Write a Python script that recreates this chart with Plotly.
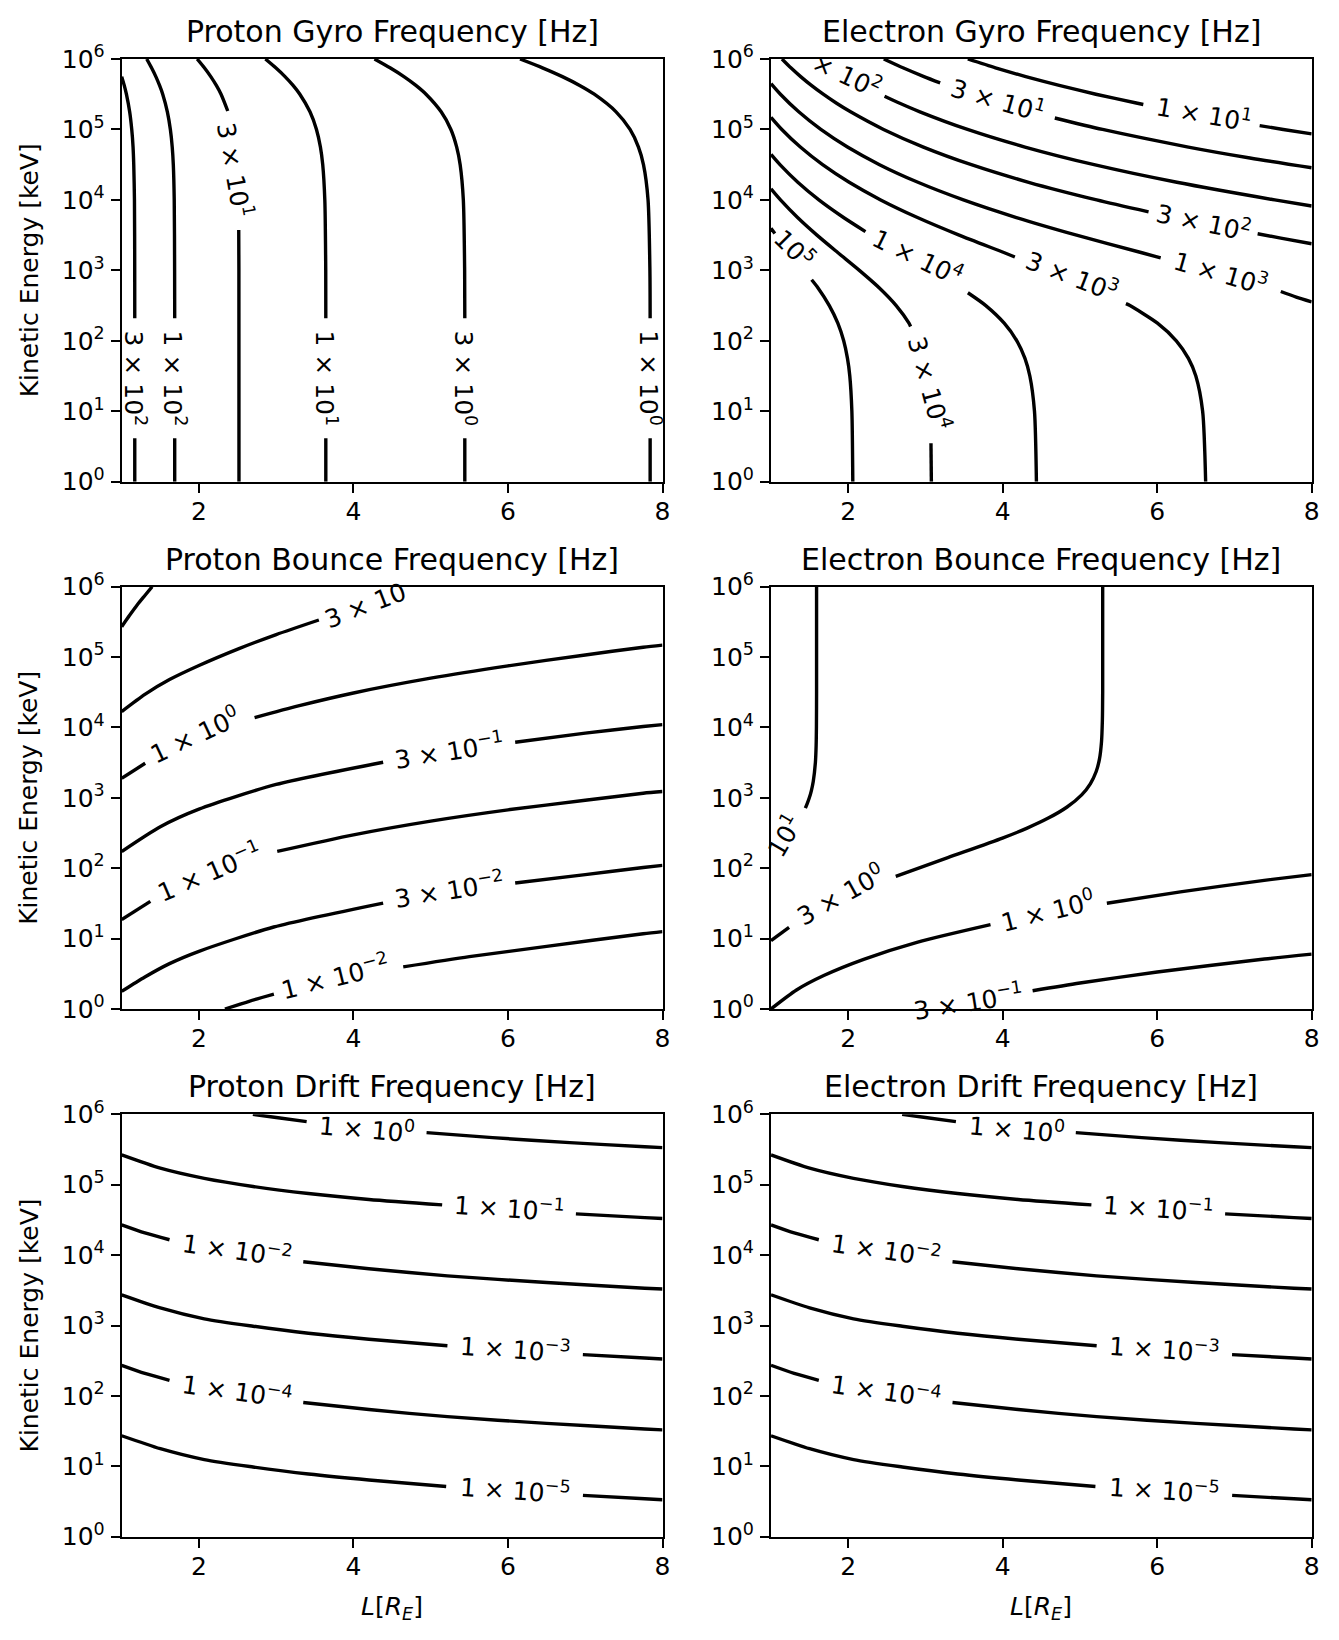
import plotly.graph_objects as go

# ---------------------------------------------------------------------------
# Data: L [R_E] and log10(kinetic energy / keV).
# None marks a gap where the inline contour label sits.
# ---------------------------------------------------------------------------

# Proton gyro frequency
pg_300_L = [1.0, 1.033, 1.061, 1.103, 1.130, 1.147, 1.156, 1.165, 1.1685, 1.169, None, 1.169, 1.169]
pg_300_logE = [5.75, 5.625, 5.5, 5.25, 5.0, 4.75, 4.5, 4.0, 3.0, 2.32, None, 0.616, 0.0]
pg_100_L = [1.324, 1.386, 1.442, 1.490, 1.531, 1.591, 1.630, 1.654, 1.668, 1.680, 1.685, 1.686, None, 1.686, 1.686]
pg_100_logE = [6.0, 5.875, 5.75, 5.625, 5.5, 5.25, 5.0, 4.75, 4.5, 4.0, 3.0, 2.32, None, 0.616, 0.0]
pg_30_L = [1.977, 2.070, 2.153, 2.225, 2.286, 2.373, None, 2.515, 2.517, 2.518]
pg_30_logE = [6.0, 5.875, 5.75, 5.625, 5.5, 5.262, None, 3.573, 3.0, 0.0]
pg_10_L = [2.860, 2.994, 3.114, 3.218, 3.306, 3.437, 3.521, 3.572, 3.602, 3.629, 3.641, 3.642, None, 3.642, 3.642]
pg_10_logE = [6.0, 5.875, 5.75, 5.625, 5.5, 5.25, 5.0, 4.75, 4.5, 4.0, 3.0, 2.32, None, 0.616, 0.0]
pg_3_L = [4.272, 4.473, 4.653, 4.808, 4.939, 5.135, 5.261, 5.336, 5.381, 5.422, 5.439, 5.441, None, 5.441, 5.441]
pg_3_logE = [6.0, 5.875, 5.75, 5.625, 5.5, 5.25, 5.0, 4.75, 4.5, 4.0, 3.0, 2.32, None, 0.616, 0.0]
pg_1_L = [6.156, 6.446, 6.704, 6.928, 7.117, 7.399, 7.580, 7.689, 7.754, 7.813, 7.837, 7.840, None, 7.840, 7.840]
pg_1_logE = [6.0, 5.875, 5.75, 5.625, 5.5, 5.25, 5.0, 4.75, 4.5, 4.0, 3.0, 2.32, None, 0.616, 0.0]
pg_label_L = [1.169, 1.686, 2.47, 3.642, 5.441, 7.84]
pg_label_logE = [1.468, 1.468, 4.42, 1.468, 1.468, 1.468]
pg_label_text = ["3 × 10<sup>2</sup>", "1 × 10<sup>2</sup>", "3 × 10<sup>1</sup>",
                 "1 × 10<sup>1</sup>", "3 × 10<sup>0</sup>", "1 × 10<sup>0</sup>"]
pg_label_angle = [90, 90, 80, 90, 90, 90]

# Electron gyro frequency
eg_1e5_L = [1.0, 1.05, None, 1.526, 1.609, 1.755, 1.865, 1.941, 1.990, 2.020, 2.047, 2.059]
eg_1e5_logE = [3.596, 3.524, None, 2.866, 2.75, 2.5, 2.25, 2.0, 1.75, 1.5, 1.0, 0.0]
eg_3e4_L = [1.0, 1.123, 1.344, 1.595, 1.867, 2.144, 2.403, 2.621, 2.786, 2.807, None, 3.071, 3.076]
eg_3e4_logE = [4.157, 4.0, 3.75, 3.5, 3.25, 3.0, 2.75, 2.5, 2.25, 2.203, None, 0.545, 0.0]
eg_1e4_L = [1.0, 1.116, 1.347, 1.620, 1.939, 2.223, None, 3.549, 3.781, 4.019, 4.183, 4.288, 4.351, 4.411, 4.436]
eg_1e4_logE = [4.645, 4.5, 4.25, 4.0, 3.75, 3.55, None, 2.682, 2.5, 2.25, 2.0, 1.75, 1.5, 1.0, 0.0]
eg_3e3_L = [1.0, 1.140, 1.380, 1.668, 2.012, 2.420, 2.896, 3.436, 4.022, 4.157, None,
            5.595, 5.647, 6.003, 6.247, 6.404, 6.500, 6.588, 6.627]
eg_3e3_logE = [5.172, 5.0, 4.75, 4.5, 4.25, 4.0, 3.75, 3.5, 3.25, 3.19, None,
               2.527, 2.5, 2.25, 2.0, 1.75, 1.5, 1.0, 0.0]
eg_1e3_L = [1.0, 1.122, 1.359, 1.645, 1.990, 2.405, 2.902, 3.491, 4.177, 4.956, 5.802, 6.045, None, 7.60, 7.80, 8.0]
eg_1e3_logE = [5.650, 5.5, 5.25, 5.0, 4.75, 4.5, 4.25, 4.0, 3.75, 3.5, 3.25, 3.176, None, 2.70, 2.62, 2.552]
eg_3e2_L = [1.142, 1.257, 1.384, 1.523, 1.676, 1.844, 2.030, 2.457, 2.973, 3.594, 4.336, 5.216, 5.888, None,
            7.30, 7.6, 8.0]
eg_3e2_logE = [6.0, 5.875, 5.75, 5.625, 5.5, 5.375, 5.25, 5.0, 4.75, 4.5, 4.25, 4.0, 3.831, None,
               3.52, 3.458, 3.377]
eg_1e2_L = [2.47, 2.660, 2.928, 3.544, 4.288, 5.183, 6.254, 7.522, 8.0]
eg_1e2_logE = [5.472, 5.375, 5.25, 5.0, 4.75, 4.5, 4.25, 4.0, 3.914]
eg_3e1_L = [2.460, 2.708, 2.980, 3.19, None, 4.674, 5.292, 6.403, 7.2, 8.0]
eg_3e1_logE = [6.0, 5.875, 5.75, 5.661, None, 5.1625, 5.0, 4.75, 4.595, 4.456]
eg_1e1_L = [3.548, 3.906, 4.298, 4.731, 5.206, 5.729, 5.82, None, 7.326, 7.632, 8.0]
eg_1e1_logE = [6.0, 5.875, 5.75, 5.625, 5.5, 5.375, 5.354, None, 5.054, 5.0, 4.938]
eg_label_L = [1.307, 3.05, 2.90, 4.90, 6.83, 6.60, 1.982, 3.94, 6.61]
eg_label_logE = [3.31, 1.39, 3.20, 2.92, 2.97, 3.70, 5.773, 5.43, 5.22]
eg_label_text = ["10<sup>5</sup>", "3 × 10<sup>4</sup>", "1 × 10<sup>4</sup>", "3 × 10<sup>3</sup>",
                 "1 × 10<sup>3</sup>", "3 × 10<sup>2</sup>", "× 10<sup>2</sup>", "3 × 10<sup>1</sup>",
                 "1 × 10<sup>1</sup>"]
eg_label_angle = [45, 75, 26, 21, 16, 12, 25, 16, 10]

# Proton bounce frequency
pb_1e1_L = [1.0, 1.1, 1.2, 1.3, 1.394]
pb_1e1_logE = [5.432, 5.59, 5.74, 5.875, 6.0]
pb_3e0_L = [1.0, 1.3, 1.619, 2.0, 2.518, 3.0, 3.552]
pb_3e0_logE = [4.226, 4.47, 4.68, 4.88, 5.12, 5.32, 5.527]
pb_1e0_L = [1.0, 1.304, None, 2.72, 3.3, 4.0, 5.0, 6.0, 7.0, 7.75, 8.0]
pb_1e0_logE = [3.279, 3.492, None, 4.14, 4.31, 4.49, 4.70, 4.875, 5.03, 5.14, 5.17]
pb_3e_1_L = [1.0, 1.5, 2.0, 3.0, 4.384, None, 6.093, 7.0, 7.75, 8.0]
pb_3e_1_logE = [2.238, 2.59, 2.84, 3.19, 3.506, None, 3.79, 3.92, 4.013, 4.04]
pb_1e_1_L = [1.0, 1.371, None, 3.013, 4.0, 5.0, 6.0, 7.0, 7.75, 8.0]
pb_1e_1_logE = [1.269, 1.529, None, 2.239, 2.475, 2.67, 2.83, 2.965, 3.066, 3.09]
pb_3e_2_L = [1.0, 1.3, 1.619, 2.0, 2.968, 4.384, None, 6.093, 7.0, 7.75, 8.0]
pb_3e_2_logE = [0.25, 0.455, 0.645, 0.82, 1.165, 1.505, None, 1.79, 1.91, 2.01, 2.04]
pb_1e_2_L = [2.336, 2.65, 2.97, None, 4.644, 5.5, 6.5, 7.75, 8.0]
pb_1e_2_logE = [0.0, 0.11, 0.21, None, 0.598, 0.744, 0.889, 1.07, 1.10]
pb_label_L = [4.16, 1.95, 5.24, 2.13, 5.24, 3.76]
pb_label_logE = [5.74, 3.90, 3.67, 1.96, 1.70, 0.46]
pb_label_text = ["3 × 10", "1 × 10<sup>0</sup>", "3 × 10<sup>−1</sup>", "1 × 10<sup>−1</sup>",
                 "3 × 10<sup>−2</sup>", "1 × 10<sup>−2</sup>"]
pb_label_angle = [-21, -25, -9, -23, -9, -14]

# Electron bounce frequency
eb_1e1_L = [1.59, 1.59, 1.588, 1.5845, 1.5746, 1.547, 1.522, 1.496, 1.470, 1.445]
eb_1e1_logE = [6.0, 4.5, 4.0, 3.75, 3.5, 3.232, 3.1, 3.0, 2.92, 2.853]
eb_3e0_L = [5.294, 5.294, 5.290, 5.279, 5.252, 5.210, 5.134, 5.022, 4.833, 4.590, 4.316, 3.996, 3.289, 2.615,
            None, 1.234, 1.0]
eb_3e0_logE = [6.0, 4.5, 4.1, 3.8, 3.55, 3.374, 3.2, 3.043, 2.87, 2.712, 2.57, 2.428, 2.15, 1.884,
               None, 1.161, 0.972]
eb_1e0_L = [1.0, 1.33, 1.683, 2.2, 2.9, 3.842, None, 5.348, 6.3, 7.385, 8.0]
eb_1e0_logE = [0.0, 0.27, 0.475, 0.705, 0.95, 1.198, None, 1.503, 1.665, 1.828, 1.91]
eb_3e_1_L = [4.387, 5.0, 6.0, 7.39, 8.0]
eb_3e_1_logE = [0.26, 0.37, 0.525, 0.71, 0.78]
eb_label_L = [1.173, 1.90, 4.59, 3.55]
eb_label_logE = [2.46, 1.62, 1.40, 0.11]
eb_label_text = ["10<sup>1</sup>", "3 × 10<sup>0</sup>", "1 × 10<sup>0</sup>", "3 × 10<sup>−1</sup>"]
eb_label_angle = [-60, -29, -14, -9]

# Drift frequency (the proton and electron panels show the same curves)
dr_1e0_L = [2.698, 3.0, 3.394, None, 4.946, 5.8, 6.8, 7.77, 8.0]
dr_1e0_logE = [6.0, 5.954, 5.896, None, 5.740, 5.668, 5.598, 5.538, 5.527]
dr_1e_1_L = [1.0, 1.5, 2.069, 2.7, 3.417, 4.2, 5.148, None, 6.879, 7.77, 8.0]
dr_1e_1_logE = [5.423, 5.235, 5.09, 4.975, 4.875, 4.79, 4.713, None, 4.586, 4.533, 4.52]
dr_1e_2_L = [1.0, 1.3, 1.619, None, 3.35, 4.2, 5.216, 6.5, 7.77, 8.0]
dr_1e_2_logE = [4.429, 4.314, 4.218, None, 3.906, 3.806, 3.705, 3.61, 3.53, 3.518]
dr_1e_3_L = [1.0, 1.5, 2.069, 2.7, 3.417, 4.2, 5.216, None, 6.969, 7.77, 8.0]
dr_1e_3_logE = [3.436, 3.25, 3.095, 2.99, 2.89, 2.805, 2.713, None, 2.587, 2.538, 2.525]
dr_1e_4_L = [1.0, 1.3, 1.619, None, 3.35, 4.2, 5.216, 6.5, 7.77, 8.0]
dr_1e_4_logE = [2.435, 2.32, 2.222, None, 1.907, 1.807, 1.705, 1.61, 1.53, 1.518]
dr_1e_5_L = [1.0, 1.5, 2.069, 2.7, 3.417, 4.2, 5.2, None, 6.97, 7.77, 8.0]
dr_1e_5_logE = [1.434, 1.25, 1.095, 0.99, 0.89, 0.805, 0.713, None, 0.587, 0.538, 0.525]
dr_label_L = [4.18, 6.01, 2.49, 6.09, 2.49, 6.09]
dr_label_logE = [5.80, 4.67, 4.08, 2.67, 2.08, 0.67]
dr_label_text = ["1 × 10<sup>0</sup>", "1 × 10<sup>−1</sup>", "1 × 10<sup>−2</sup>",
                 "1 × 10<sup>−3</sup>", "1 × 10<sup>−4</sup>", "1 × 10<sup>−5</sup>"]
dr_label_angle = [5, 4, 8, 4, 8, 4]

titles = ["Proton Gyro Frequency [Hz]", "Electron Gyro Frequency [Hz]",
          "Proton Bounce Frequency [Hz]", "Electron Bounce Frequency [Hz]",
          "Proton Drift Frequency [Hz]", "Electron Drift Frequency [Hz]"]
x_tick_vals = [2, 4, 6, 8]
x_tick_text = ["2", "4", "6", "8"]
y_tick_exp = [0, 1, 2, 3, 4, 5, 6]
y_label = "Kinetic Energy [keV]"
x_label = "<i>L</i>[<i>R</i><sub><i>E</i></sub>]"

# ---------------------------------------------------------------------------
FONT = "DejaVu Sans"
W, H = 1339, 1640
OFF = 8.0  # the page body adds an 8 px margin, so place everything 8 px earlier
col_px = [(121.7 - OFF, 662.5 - OFF), (771.0 - OFF, 1311.7 - OFF)]
row_px = [(59.0 - OFF, 481.7 - OFF), (586.7 - OFF, 1009.0 - OFF), (1114.3 - OFF, 1536.7 - OFF)]

panels = [
    ([(pg_300_L, pg_300_logE), (pg_100_L, pg_100_logE), (pg_30_L, pg_30_logE),
      (pg_10_L, pg_10_logE), (pg_3_L, pg_3_logE), (pg_1_L, pg_1_logE)],
     (pg_label_L, pg_label_logE, pg_label_text, pg_label_angle)),
    ([(eg_1e5_L, eg_1e5_logE), (eg_3e4_L, eg_3e4_logE), (eg_1e4_L, eg_1e4_logE),
      (eg_3e3_L, eg_3e3_logE), (eg_1e3_L, eg_1e3_logE), (eg_3e2_L, eg_3e2_logE),
      (eg_1e2_L, eg_1e2_logE), (eg_3e1_L, eg_3e1_logE), (eg_1e1_L, eg_1e1_logE)],
     (eg_label_L, eg_label_logE, eg_label_text, eg_label_angle)),
    ([(pb_1e1_L, pb_1e1_logE), (pb_3e0_L, pb_3e0_logE), (pb_1e0_L, pb_1e0_logE),
      (pb_3e_1_L, pb_3e_1_logE), (pb_1e_1_L, pb_1e_1_logE), (pb_3e_2_L, pb_3e_2_logE),
      (pb_1e_2_L, pb_1e_2_logE)],
     (pb_label_L, pb_label_logE, pb_label_text, pb_label_angle)),
    ([(eb_1e1_L, eb_1e1_logE), (eb_3e0_L, eb_3e0_logE), (eb_1e0_L, eb_1e0_logE),
      (eb_3e_1_L, eb_3e_1_logE)],
     (eb_label_L, eb_label_logE, eb_label_text, eb_label_angle)),
]
drift_curves = [(dr_1e0_L, dr_1e0_logE), (dr_1e_1_L, dr_1e_1_logE), (dr_1e_2_L, dr_1e_2_logE),
                (dr_1e_3_L, dr_1e_3_logE), (dr_1e_4_L, dr_1e_4_logE), (dr_1e_5_L, dr_1e_5_logE)]
drift_labels = (dr_label_L, dr_label_logE, dr_label_text, dr_label_angle)
panels.append((drift_curves, drift_labels))
panels.append((drift_curves, drift_labels))

fig = go.Figure()
annotations = []
layout_axes = {}

for i, (curves, labels) in enumerate(panels):
    n = i + 1
    sfx = "" if n == 1 else str(n)
    r, c = divmod(i, 2)
    x0, x1 = col_px[c]
    y0, y1 = row_px[r]
    for L, lg in curves:
        fig.add_trace(go.Scatter(
            x=L, y=[None if v is None else 10 ** v for v in lg],
            mode="lines", line=dict(color="black", width=3.4, shape="spline", smoothing=0.7),
            xaxis="x" + sfx, yaxis="y" + sfx, hoverinfo="skip", showlegend=False,
            connectgaps=False))
    for lx, ly, txt, ang in zip(*labels):
        annotations.append(dict(
            x=lx, y=ly, xref="x" + sfx, yref="y" + sfx, text=txt, textangle=ang,
            showarrow=False, xanchor="center", yanchor="middle",
            font=dict(family=FONT, size=25, color="black")))
    common = dict(showline=True, linecolor="black", linewidth=2, mirror=True,
                  ticks="outside", ticklen=9, tickwidth=2, tickcolor="black",
                  showgrid=False, zeroline=False, automargin=False,
                  tickfont=dict(family=FONT, size=25, color="black"))
    layout_axes["xaxis" + sfx] = dict(
        domain=[x0 / W, x1 / W], anchor="y" + sfx, range=[1, 8],
        tickvals=x_tick_vals, ticktext=x_tick_text, ticklabelstandoff=-3, **common)
    layout_axes["yaxis" + sfx] = dict(
        domain=[1 - y1 / H, 1 - y0 / H], anchor="x" + sfx, type="log", range=[0, 6],
        tickvals=[10 ** e for e in y_tick_exp],
        ticktext=["10<sup>%d</sup>" % e for e in y_tick_exp], ticklabelstandoff=1, **common)
    # panel title
    annotations.append(dict(
        x=(x0 + x1) / 2 / W, y=1 - (y0 - 27.5) / H, xref="paper", yref="paper",
        text=titles[i], showarrow=False, xanchor="center", yanchor="middle",
        font=dict(family=FONT, size=30, color="black")))
    if c == 0:
        annotations.append(dict(
            x=(29 - OFF) / W, y=1 - (y0 + y1) / 2 / H, xref="paper", yref="paper",
            text=y_label, textangle=-90, showarrow=False, xanchor="center", yanchor="middle",
            font=dict(family=FONT, size=25, color="black")))
    if r == 2:
        annotations.append(dict(
            x=(x0 + x1) / 2 / W, y=1 - (1608 - OFF) / H, xref="paper", yref="paper",
            text=x_label, showarrow=False, xanchor="center", yanchor="middle",
            font=dict(family=FONT, size=25, color="black")))

fig.update_layout(
    width=W, height=H, margin=dict(l=0, r=0, t=0, b=0, autoexpand=False),
    paper_bgcolor="white", plot_bgcolor="white",
    font=dict(family=FONT, size=25, color="black"),
    annotations=annotations, showlegend=False, **layout_axes)

fig.write_html("out.html")
